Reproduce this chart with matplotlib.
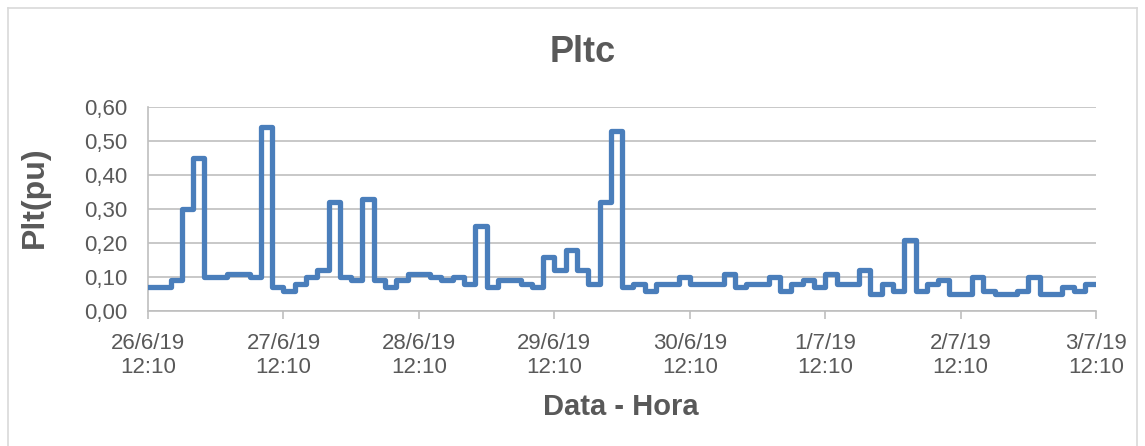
import numpy as np
import pandas as pd
import matplotlib
matplotlib.use('Agg')
import matplotlib.pyplot as plt
from matplotlib.lines import Line2D

# valores Plt a cada 2 horas
plt_values = [0.07, 0.07, 0.09, 0.30, 0.45, 0.10, 0.10, 0.11, 0.11, 0.10,
              0.54, 0.07, 0.06, 0.08, 0.10, 0.12, 0.32, 0.10, 0.09, 0.33,
              0.09, 0.07, 0.09, 0.11, 0.11, 0.10, 0.09, 0.10, 0.08, 0.25,
              0.07, 0.09, 0.09, 0.08, 0.07, 0.16, 0.12, 0.18, 0.12, 0.08,
              0.32, 0.53, 0.07, 0.08, 0.06, 0.08, 0.08, 0.10, 0.08, 0.08,
              0.08, 0.11, 0.07, 0.08, 0.08, 0.10, 0.06, 0.08, 0.09, 0.07,
              0.11, 0.08, 0.08, 0.12, 0.05, 0.08, 0.06, 0.21, 0.06, 0.08,
              0.09, 0.05, 0.05, 0.10, 0.06, 0.05, 0.05, 0.06, 0.10, 0.05,
              0.05, 0.07, 0.06, 0.08]
start = '2019-06-26 12:10'
y_ticks = [0.0, 0.1, 0.2, 0.3, 0.4, 0.5, 0.6]

times = pd.date_range(start, periods=len(plt_values) + 1, freq='2h')
vals = np.append(plt_values, plt_values[-1])
day_ticks = pd.date_range(start, times[-1], freq='D')

txt = '#595959'
plt.rcParams['font.family'] = ['Liberation Sans', 'DejaVu Sans']

fig = plt.figure(figsize=(11.45, 4.46), dpi=100)
ax = fig.add_axes([0.1293, 0.3027, 0.8280, 0.4573])

ax.plot(times, vals, drawstyle='steps-post', color='#4A7EBB', lw=3.8,
        solid_joinstyle='round', solid_capstyle='round', zorder=3)

ax.set_xlim(times[0], times[-1])
ax.set_ylim(0, 0.6)
ax.set_yticks(y_ticks)
ax.set_yticklabels([('%.2f' % v).replace('.', ',') for v in y_ticks])
ax.set_xticks(day_ticks)
ax.set_xticklabels(['%d/%d/%s\n%s' % (d.day, d.month, d.strftime('%y'), d.strftime('%H:%M'))
                    for d in day_ticks])

ax.grid(axis='y', color='#BFBFBF', lw=1.2)
ax.set_axisbelow(True)
for s in ['top', 'right']:
    ax.spines[s].set_visible(False)
for s in ['left', 'bottom']:
    ax.spines[s].set_color('#BFBFBF')
    ax.spines[s].set_linewidth(1.2)
ax.tick_params(axis='y', length=0, labelsize=16, labelcolor=txt, pad=15)
ax.tick_params(axis='x', length=6, color='#BFBFBF', width=1.2,
               labelsize=16, labelcolor=txt, pad=10)

fig.text(583 / 1145, 1 - 53 / 446, 'Pltc', fontsize=26, fontweight='bold',
         color=txt, ha='center', va='center')
fig.text(621 / 1145, 1 - 407 / 446, 'Data - Hora', fontsize=21, fontweight='bold',
         color=txt, ha='center', va='center')
fig.text(35 / 1145, 1 - 197 / 446, 'Plt(pu)', fontsize=23, fontweight='bold',
         color=txt, ha='center', va='center', rotation=90)

# borda da area do grafico
bx0, bx1, by1 = 8 / 1145, 1137 / 1145, 1 - 8 / 446
for xs, ys in [([bx0, bx0], [0, by1]), ([bx0, bx1], [by1, by1]), ([bx1, bx1], [by1, 0])]:
    fig.add_artist(Line2D(xs, ys, transform=fig.transFigure, color='#D9D9D9', lw=1.2))

fig.savefig('out.png', dpi=100)
